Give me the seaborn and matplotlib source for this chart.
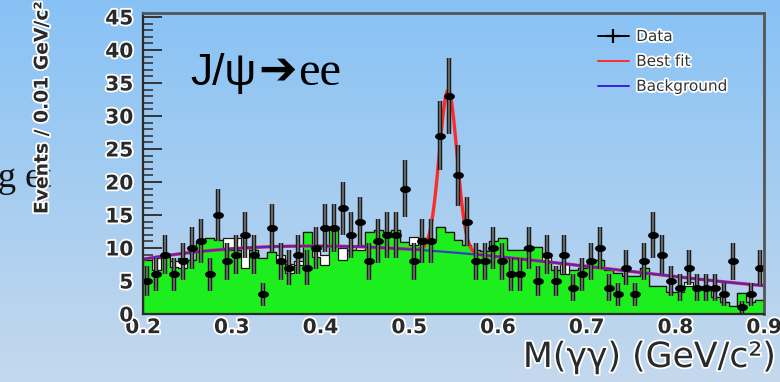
import numpy as np
import pandas as pd
import matplotlib
matplotlib.use("Agg")
import matplotlib.pyplot as plt
import matplotlib.patheffects as pe
from matplotlib.lines import Line2D
from matplotlib.ticker import MultipleLocator, FormatStrFormatter
import seaborn as sns

# ---- binning: M(gamma gamma) from 0.2 to 0.9 GeV/c^2 in 0.01 bins ----
mass_lo = 0.20
mass_hi = 0.90
bin_width = 0.01

# observed events per bin
data_counts = [5, 6, 9, 6, 8, 10, 11, 6, 15, 8,
               9, 12, 9, 3, 13, 8, 7, 9, 7, 10,
               13, 13, 16, 12, 14, 8, 11, 12, 12, 19,
               8, 11, 11, 27, 33, 21, 14, 8, 8, 10,
               8, 6, 6, 10, 5, 9, 5, 9, 4, 6,
               8, 10, 4, 3, 7, 3, 8, 12, 9, 5,
               4, 7, 4, 4, 4, 3, 8, 1, 3, 7]

# simulated background components (green = main component, white = total)
mc_green = [8.2, 6.7, 8.6, 7.1, 7.0, 8.2, 11.0, 11.5, 11.2, 9.7,
            9.7, 7.0, 9.7, 8.5, 9.4, 7.7, 6.2, 7.4, 12.4, 8.6,
            7.4, 13.0, 8.2, 9.7, 9.7, 12.4, 12.7, 12.4, 12.7, 10.9,
            10.5, 11.5, 11.0, 13.2, 12.4, 11.2, 10.5, 9.7, 9.6, 11.0,
            11.5, 9.7, 9.7, 10.2, 10.2, 8.0, 6.7, 6.0, 6.7, 7.0,
            7.9, 8.2, 6.7, 6.2, 5.7, 5.8, 6.9, 4.3, 4.3, 3.3,
            3.3, 4.2, 4.1, 3.9, 2.5, 1.8, 1.2, 3.2, 1.8, 2.1]
mc_total = [8.2, 8.5, 8.6, 8.0, 8.5, 8.2, 11.0, 11.5, 11.2, 11.5,
            11.5, 10.0, 9.7, 8.5, 9.4, 9.0, 7.5, 8.0, 12.4, 9.5,
            9.0, 13.0, 10.0, 9.7, 10.5, 12.4, 12.7, 12.4, 12.7, 10.9,
            11.7, 11.5, 11.0, 13.2, 12.4, 11.2, 10.5, 9.7, 9.6, 11.0,
            11.5, 9.7, 9.7, 10.2, 10.2, 9.0, 6.7, 7.7, 6.7, 7.0,
            7.9, 8.2, 6.7, 6.2, 5.7, 5.8, 6.9, 4.3, 4.3, 3.3,
            3.3, 4.8, 4.1, 3.9, 2.5, 1.8, 1.2, 3.2, 1.8, 2.1]

# fit result: cubic background in (M - 0.2) plus a Gaussian signal
bkg_coef = [8.3, 22.6, -72.1, 45.2]
sig_amp = 24.5
sig_mean = 0.544
sig_sigma = 0.0100

x_ticks_major = 0.1
y_ticks_major = 5

# ---------------------------------------------------------------------
n_bins = int(round((mass_hi - mass_lo) / bin_width))
edges = [round(mass_lo + i * bin_width, 4) for i in range(n_bins + 1)]
centers = np.array(edges[:-1]) + bin_width / 2
counts = np.array(data_counts, dtype=float)

hist_df = pd.DataFrame({"mass": centers, "green": mc_green, "total": mc_total})

xs = np.linspace(mass_lo, mass_hi, 1401)
t = xs - mass_lo
bkg_curve = sum(c * t ** k for k, c in enumerate(bkg_coef))
fit_curve = bkg_curve + sig_amp * np.exp(-0.5 * ((xs - sig_mean) / sig_sigma) ** 2)

sns.set_style("ticks")
plt.rcParams["font.family"] = ["DejaVu Sans"]

W, H = 780, 382
fig = plt.figure(figsize=(W / 100, H / 100), dpi=100)

# slide-style vertical gradient behind everything
bg = fig.add_axes([0, 0, 1, 1], zorder=-10)
top = np.array([0.53, 0.76, 0.96])
bot = np.array([0.77, 0.85, 0.93])
grad = np.linspace(0, 1, 256)[:, None, None] * (bot - top) + top
bg.imshow(np.repeat(grad, 4, axis=1), aspect="auto", extent=[0, 1, 0, 1])
bg.axis("off")

ax = fig.add_axes([143 / W, 1 - 314 / H, (764 - 143) / W, (314 - 13) / H])
ax.patch.set_alpha(0)

halo = [pe.withStroke(linewidth=2.6, foreground="white")]
ink = "#2a2a2a"

sns.histplot(data=hist_df, x="mass", weights="total", bins=edges, element="step", fill=True,
             color="white", edgecolor="#1a1a1a", linewidth=0.9, alpha=1, ax=ax, zorder=1)
sns.histplot(data=hist_df, x="mass", weights="green", bins=edges, element="step", fill=True,
             color="#1DEE1D", edgecolor="#111111", linewidth=0.9, alpha=1, ax=ax, zorder=2)

sns.lineplot(x=xs, y=fit_curve, color="#FF2B2B", linewidth=2.4, ax=ax, zorder=3)
sns.lineplot(x=xs, y=bkg_curve, color="#3A22DD", linewidth=1.6, alpha=0.85, ax=ax, zorder=4)

yerr = np.sqrt(counts)
ax.errorbar(centers, counts, yerr=yerr, fmt="none", ecolor="#1c1c1c",
            elinewidth=3.2, capsize=0, zorder=5)
ax.errorbar(centers, counts, yerr=yerr, fmt="none", ecolor=(1, 1, 1, 0.38),
            elinewidth=1.2, capsize=0, zorder=6)

theta = np.linspace(0, 2 * np.pi, 40)
ellipse = list(zip(1.7 * np.cos(theta), np.sin(theta)))
ax.plot(centers, counts, linestyle="none", marker=ellipse, markersize=6.8,
        color="black", zorder=7)

ax.set_xlim(mass_lo, mass_hi)
ax.set_ylim(0, 45.6)
ax.set_xlabel("")
ax.set_ylabel("")
ax.xaxis.set_major_locator(MultipleLocator(x_ticks_major))
ax.xaxis.set_minor_locator(MultipleLocator(0.02))
ax.yaxis.set_major_locator(MultipleLocator(y_ticks_major))
ax.yaxis.set_minor_locator(MultipleLocator(1))
ax.xaxis.set_major_formatter(FormatStrFormatter("%.1f"))
ax.yaxis.set_major_formatter(FormatStrFormatter("%d"))

ax.tick_params(axis="x", which="major", direction="in", length=6, width=1.3,
               color=ink, pad=3, labelsize=14.5, labelcolor=ink)
ax.tick_params(axis="x", which="minor", direction="in", length=3.5, width=1.1, color=ink)
ax.tick_params(axis="y", which="major", direction="in", length=14, width=1.3,
               color=ink, pad=7, labelsize=14.5, labelcolor=ink)
ax.tick_params(axis="y", which="minor", direction="in", length=7, width=1.1, color=ink)
for side, sp in ax.spines.items():
    sp.set_visible(True)
    sp.set_color(ink if side in ("left", "bottom") else "#555555")
    sp.set_linewidth(1.6 if side in ("left", "bottom") else 2.0)
    sp.set_zorder(8)

fig.canvas.draw()
for lbl in ax.get_xticklabels() + ax.get_yticklabels():
    lbl.set_fontweight("bold")
    lbl.set_path_effects(halo)

# axis titles
fig.text(-0.003, 1 - 187 / H, "g et", family=["Liberation Serif"], fontsize=26,
         color="#111111", va="baseline", ha="left", zorder=1)
fig.text(42 / W, 1 - 108 / H, "Events / 0.01 GeV/c²", rotation=90, fontsize=13.5,
         fontweight="bold", color=ink, ha="center", va="center", path_effects=halo)
fig.text(776 / W, 1 - 357 / H, "M(γγ) (GeV/c²)", fontsize=25, color=ink,
         ha="right", va="center", path_effects=halo)

# decay channel label
renderer = fig.canvas.get_renderer()
base_y = 1 - 85 / H
t1 = fig.text(190 / W, base_y, "J/ψ", family=["Liberation Sans"], fontsize=32,
              color="black", va="baseline")
x1 = t1.get_window_extent(renderer).x1
t2 = fig.text((x1 + 2) / W, base_y + 2 / H, "➔", family=["DejaVu Sans"],
              fontsize=33, color="black", va="baseline")
x2 = t2.get_window_extent(renderer).x1
fig.text((x2 + 1) / W, base_y, "ee", family=["Liberation Serif"], fontsize=35,
         color="black", va="baseline")

# legend
handles = [Line2D([], [], color="black", lw=1.4, marker="+", markersize=10, markeredgewidth=1.6),
           Line2D([], [], color="#FF2B2B", lw=1.4),
           Line2D([], [], color="#3A22DD", lw=1.4)]
leg = fig.legend(handles, ["Data", "Best fit", "Background"], loc="upper left",
                 bbox_to_anchor=(598 / W, 1 - 29 / H), frameon=False, fontsize=11,
                 handlelength=2.0, handletextpad=0.5, labelspacing=0.65,
                 borderpad=0, borderaxespad=0)
for txt in leg.get_texts():
    txt.set_color("#333333")
    txt.set_path_effects(halo)

fig.savefig("out.png", dpi=100)
